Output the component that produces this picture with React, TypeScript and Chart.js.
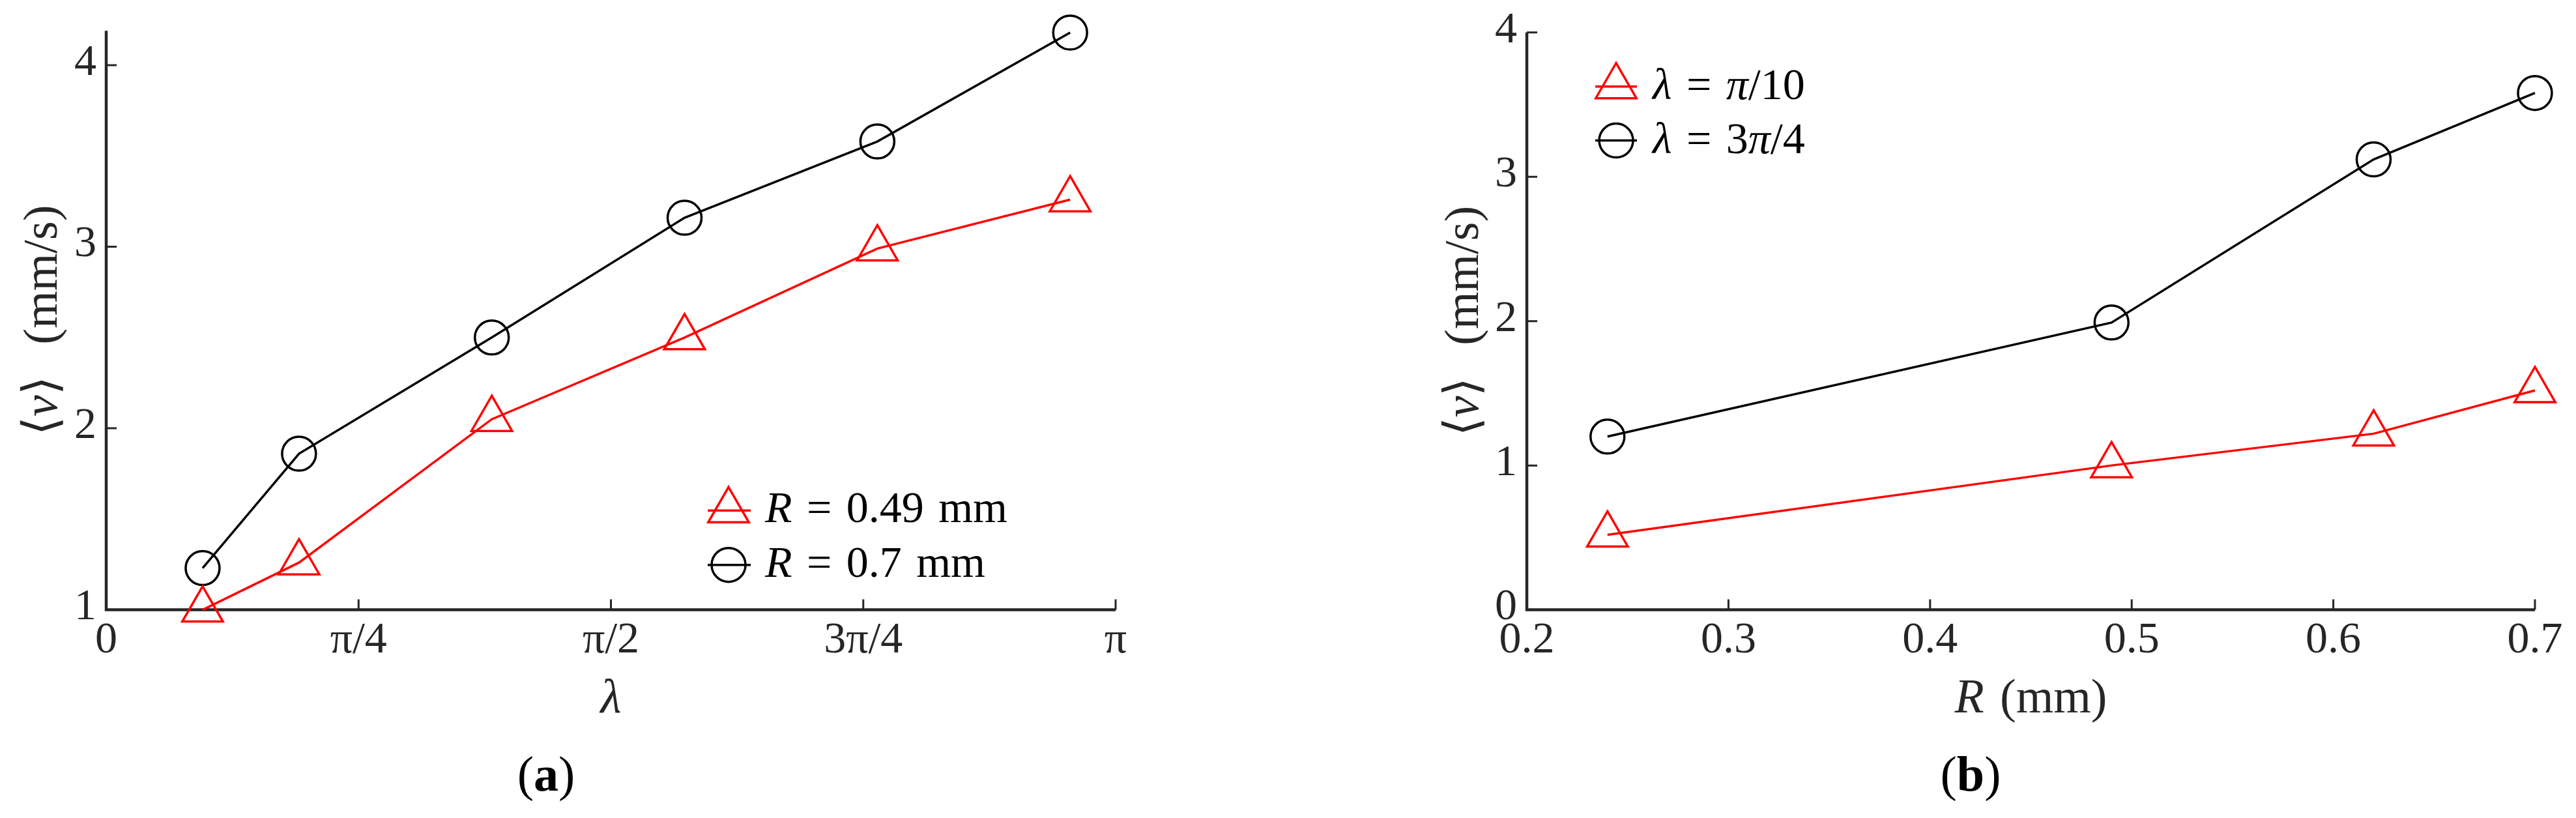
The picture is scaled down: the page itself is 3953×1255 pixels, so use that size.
import React, { useEffect, useRef } from 'react';
import { Chart, registerables } from 'chart.js';

Chart.register(...registerables);

// ---------------- data: panel (a) ----------------
const lambdaValues = [0.3, 0.6, 1.2, 1.8, 2.4, 3.0];
const speedR049 = [1.0, 1.26, 2.05, 2.5, 2.99, 3.26];
const speedR07 = [1.23, 1.86, 2.5, 3.16, 3.58, 4.18];
const lambdaTickValues = [0, Math.PI / 4, Math.PI / 2, (3 * Math.PI) / 4, Math.PI];
const lambdaTickLabels = ['0', 'π/4', 'π/2', '3π/4', 'π'];
const speedTicksA = [1, 2, 3, 4];
const speedTickLabelsA = ['1', '2', '3', '4'];
const legendLabelsA = ['_R_ = 0.49 mm', '_R_ = 0.7 mm'];

// ---------------- data: panel (b) ----------------
const radiusValues = [0.24, 0.49, 0.62, 0.7];
const speedPi10 = [0.52, 1.0, 1.22, 1.52];
const speed3Pi4 = [1.2, 1.99, 3.12, 3.58];
const radiusTickValues = [0.2, 0.3, 0.4, 0.5, 0.6, 0.7];
const radiusTickLabels = ['0.2', '0.3', '0.4', '0.5', '0.6', '0.7'];
const speedTicksB = [0, 1, 2, 3, 4];
const speedTickLabelsB = ['0', '1', '2', '3', '4'];
const legendLabelsB = ['_λ_ = _π_/10', '_λ_ = 3_π_/4'];

// ---------------- styles ----------------
const FONT = '"Liberation Serif", "Times New Roman", serif';
const AXIS_COLOR = '#262626';
const RED = '#ff0000';
const BLACK = '#000000';
const TICK_FONT = 68;
const TITLE_FONT = 74;
const LEGEND_FONT = 68;
const CAPTION_FONT = 76;
const SPACE_EM = 0.33;
const TRI_R = 36;
const CIRC_R = 26;

type Seg = { t?: string; it?: boolean; b?: boolean; gap?: number };

function parseRich(s: string): Seg[] {
  const segs: Seg[] = [];
  let it = false;
  let b = false;
  let buf = '';
  const flush = () => {
    if (buf) {
      segs.push({ t: buf, it, b });
      buf = '';
    }
  };
  for (const ch of s) {
    if (ch === '_') {
      flush();
      it = !it;
    } else if (ch === '*') {
      flush();
      b = !b;
    } else if (ch === ' ') {
      flush();
      segs.push({ gap: SPACE_EM });
    } else buf += ch;
  }
  flush();
  return segs;
}

const plain = (s: string) => s.replace(/[_*]/g, '');

function fontStr(size: number, it?: boolean, b?: boolean) {
  return `${it ? 'italic ' : ''}${b ? 'bold ' : ''}${size}px ${FONT}`;
}

function drawRich(
  ctx: CanvasRenderingContext2D,
  text: string,
  x: number,
  y: number,
  size: number,
  align: 'left' | 'center',
  color: string,
  rotate = false
) {
  const segs = parseRich(text);
  ctx.save();
  ctx.translate(x, y);
  if (rotate) ctx.rotate(-Math.PI / 2);
  ctx.textBaseline = 'alphabetic';
  ctx.textAlign = 'left';
  ctx.fillStyle = color;
  const widths = segs.map((s) => {
    if (s.gap) return s.gap * size;
    ctx.font = fontStr(size, s.it, s.b);
    return ctx.measureText(s.t || '').width;
  });
  const total = widths.reduce((p, c) => p + c, 0);
  let cx = align === 'center' ? -total / 2 : 0;
  segs.forEach((s, i) => {
    if (!s.gap) {
      ctx.font = fontStr(size, s.it, s.b);
      ctx.fillText(s.t || '', cx, 0);
    }
    cx += widths[i];
  });
  ctx.restore();
}

function drawMarker(
  ctx: CanvasRenderingContext2D,
  style: string,
  x: number,
  y: number,
  r: number,
  lw: number,
  color: string
) {
  ctx.save();
  ctx.strokeStyle = color;
  ctx.lineWidth = lw;
  ctx.beginPath();
  if (style === 'triangle') {
    let a = 0;
    ctx.moveTo(x + Math.sin(a) * r, y - Math.cos(a) * r);
    a += (2 * Math.PI) / 3;
    ctx.lineTo(x + Math.sin(a) * r, y - Math.cos(a) * r);
    a += (2 * Math.PI) / 3;
    ctx.lineTo(x + Math.sin(a) * r, y - Math.cos(a) * r);
    ctx.closePath();
  } else {
    ctx.arc(x, y, r, 0, Math.PI * 2);
  }
  ctx.stroke();
  ctx.restore();
}

interface Series {
  x: number[];
  y: number[];
  label: string;
  color: string;
  style: 'triangle' | 'circle';
}

interface PanelSpec {
  left: number;
  width: number;
  height: number;
  area: { left: number; right: number; top: number; bottom: number };
  xMin: number;
  xMax: number;
  yMin: number;
  yMax: number;
  xTicks: number[];
  xTickLabels: string[];
  yTicks: number[];
  yTickLabels: string[];
  series: Series[];
  xTitle: string;
  yTitle: string;
  yTitleX: number;
  titleBaseline: number;
  caption: string;
  captionX: number;
  captionBaseline: number;
  legend: { markerX: number; lineX0: number; lineX1: number; textX: number; rows: number[]; dy: number };
}

const panelA: PanelSpec = {
  left: 0,
  width: 1900,
  height: 1255,
  area: { left: 163, right: 1712, top: 47.2, bottom: 935.6 },
  xMin: 0,
  xMax: Math.PI,
  yMin: 1,
  yMax: 4.19,
  xTicks: lambdaTickValues,
  xTickLabels: lambdaTickLabels,
  yTicks: speedTicksA,
  yTickLabels: speedTickLabelsA,
  series: [
    { x: lambdaValues, y: speedR049, label: legendLabelsA[0], color: RED, style: 'triangle' },
    { x: lambdaValues, y: speedR07, label: legendLabelsA[1], color: BLACK, style: 'circle' },
  ],
  xTitle: '_λ_',
  yTitle: '⟨_v_⟩  (mm/s)',
  yTitleX: 87,
  titleBaseline: 1093,
  caption: '(*a*)',
  captionX: 838,
  captionBaseline: 1213,
  legend: { markerX: 1118, lineX0: 1086, lineX1: 1152, textX: 1174, rows: [783.3, 866.7], dy: 18 },
};

const B0 = 1980;
const panelB: PanelSpec = {
  left: B0,
  width: 3953 - B0,
  height: 1255,
  area: { left: 2343 - B0, right: 3890 - B0, top: 49.7, bottom: 935.6 },
  xMin: 0.2,
  xMax: 0.7,
  yMin: 0,
  yMax: 4,
  xTicks: radiusTickValues,
  xTickLabels: radiusTickLabels,
  yTicks: speedTicksB,
  yTickLabels: speedTickLabelsB,
  series: [
    { x: radiusValues, y: speedPi10, label: legendLabelsB[0], color: RED, style: 'triangle' },
    { x: radiusValues, y: speed3Pi4, label: legendLabelsB[1], color: BLACK, style: 'circle' },
  ],
  xTitle: '_R_ (mm)',
  yTitle: '⟨_v_⟩  (mm/s)',
  yTitleX: 2268 - B0,
  titleBaseline: 1093,
  caption: '(*b*)',
  captionX: 3024 - B0,
  captionBaseline: 1213,
  legend: { markerX: 2480 - B0, lineX0: 2448 - B0, lineX1: 2512 - B0, textX: 2536 - B0, rows: [132.7, 215.6], dy: 19 },
};

const X_SCALE_H = 150;

function buildConfig(spec: PanelSpec): any {
  const richLabels = spec.series.map((s) => s.label);
  const decor = {
    id: 'decor',
    beforeDatasetsDraw(chart: any) {
      const { ctx, chartArea: a, scales } = chart;
      const x = scales.x;
      const y = scales.y;
      ctx.save();
      ctx.strokeStyle = AXIS_COLOR;
      ctx.lineWidth = 4.5;
      ctx.lineJoin = 'miter';
      ctx.beginPath();
      ctx.moveTo(a.left, a.top);
      ctx.lineTo(a.left, a.bottom);
      ctx.lineTo(a.right, a.bottom);
      ctx.stroke();
      ctx.lineWidth = 3;
      ctx.beginPath();
      for (const v of spec.yTicks) {
        const py = y.getPixelForValue(v);
        ctx.moveTo(a.left, py);
        ctx.lineTo(a.left + 16, py);
      }
      for (const v of spec.xTicks) {
        const px = x.getPixelForValue(v);
        ctx.moveTo(px, a.bottom);
        ctx.lineTo(px, a.bottom - 16);
      }
      ctx.stroke();
      ctx.restore();
    },
    afterDraw(chart: any) {
      const { ctx, chartArea: a } = chart;
      // axis titles
      drawRich(ctx, spec.xTitle, (a.left + a.right) / 2, spec.titleBaseline, TITLE_FONT, 'center', AXIS_COLOR);
      drawRich(ctx, spec.yTitle, spec.yTitleX, (a.top + a.bottom) / 2, TITLE_FONT, 'center', AXIS_COLOR, true);
      // legend
      const lg = spec.legend;
      lg.rows.forEach((ry, i) => {
        const ds = chart.data.datasets[i];
        ctx.save();
        ctx.strokeStyle = ds.borderColor;
        ctx.lineWidth = ds.borderWidth;
        ctx.beginPath();
        ctx.moveTo(lg.lineX0, ry);
        ctx.lineTo(lg.lineX1, ry);
        ctx.stroke();
        ctx.restore();
        drawMarker(ctx, ds.pointStyle, lg.markerX, ry, ds.pointRadius, ds.pointBorderWidth, ds.borderColor);
        drawRich(ctx, richLabels[i], lg.textX, ry + lg.dy, LEGEND_FONT, 'left', BLACK);
      });
      // caption
      drawRich(ctx, spec.caption, spec.captionX, spec.captionBaseline, CAPTION_FONT, 'center', BLACK);
    },
  };

  return {
    type: 'line',
    data: {
      datasets: spec.series.map((s) => ({
        label: plain(s.label),
        data: s.x.map((xv, i) => ({ x: xv, y: s.y[i] })),
        borderColor: s.color,
        backgroundColor: 'rgba(0,0,0,0)',
        borderWidth: 3.5,
        pointStyle: s.style,
        pointRadius: s.style === 'triangle' ? TRI_R : CIRC_R,
        pointBorderColor: s.color,
        pointBackgroundColor: 'rgba(0,0,0,0)',
        pointBorderWidth: 3.5,
        tension: 0,
        fill: false,
        clip: false,
      })),
    },
    options: {
      responsive: false,
      animation: false,
      devicePixelRatio: 1,
      events: [],
      layout: {
        padding: {
          left: 0,
          top: spec.area.top,
          right: spec.width - spec.area.right,
          bottom: spec.height - spec.area.bottom - X_SCALE_H,
        },
      },
      plugins: {
        legend: { display: false },
        tooltip: { enabled: false },
        title: { display: false },
      },
      scales: {
        x: {
          type: 'linear',
          position: 'bottom',
          min: spec.xMin,
          max: spec.xMax,
          grid: { display: false, drawTicks: false },
          border: { display: false },
          afterBuildTicks: (sc: any) => {
            sc.ticks = spec.xTicks.map((v) => ({ value: v }));
          },
          afterFit: (sc: any) => {
            sc.height = X_SCALE_H;
            sc.paddingLeft = 0;
            sc.paddingRight = 0;
          },
          ticks: {
            autoSkip: false,
            maxRotation: 0,
            minRotation: 0,
            padding: 7,
            color: AXIS_COLOR,
            font: { family: FONT, size: TICK_FONT },
            callback: (_v: any, i: number) => spec.xTickLabels[i],
          },
        },
        y: {
          type: 'linear',
          position: 'left',
          min: spec.yMin,
          max: spec.yMax,
          grid: { display: false, drawTicks: false },
          border: { display: false },
          afterBuildTicks: (sc: any) => {
            sc.ticks = spec.yTicks.map((v) => ({ value: v }));
          },
          afterFit: (sc: any) => {
            sc.width = spec.area.left;
            sc.paddingTop = 0;
            sc.paddingBottom = 0;
          },
          ticks: {
            autoSkip: false,
            padding: 15,
            labelOffset: -3,
            color: AXIS_COLOR,
            font: { family: FONT, size: TICK_FONT },
            callback: (_v: any, i: number) => spec.yTickLabels[i],
          },
        },
      },
    },
    plugins: [decor],
  };
}

function Panel({ spec }: { spec: PanelSpec }) {
  const ref = useRef<HTMLCanvasElement | null>(null);
  useEffect(() => {
    const canvas = ref.current;
    if (!canvas) return;
    const chart = new Chart(canvas, buildConfig(spec));
    return () => chart.destroy();
  }, [spec]);
  return (
    <canvas
      ref={ref}
      width={spec.width}
      height={spec.height}
      style={{ position: 'absolute', left: spec.left, top: 0, width: spec.width, height: spec.height }}
    />
  );
}

export default function App() {
  return (
    <div
      style={{
        position: 'absolute',
        left: 0,
        top: 0,
        width: 3953,
        height: 1255,
        overflow: 'hidden',
        background: '#ffffff',
      }}
    >
      <Panel spec={panelA} />
      <Panel spec={panelB} />
    </div>
  );
}
